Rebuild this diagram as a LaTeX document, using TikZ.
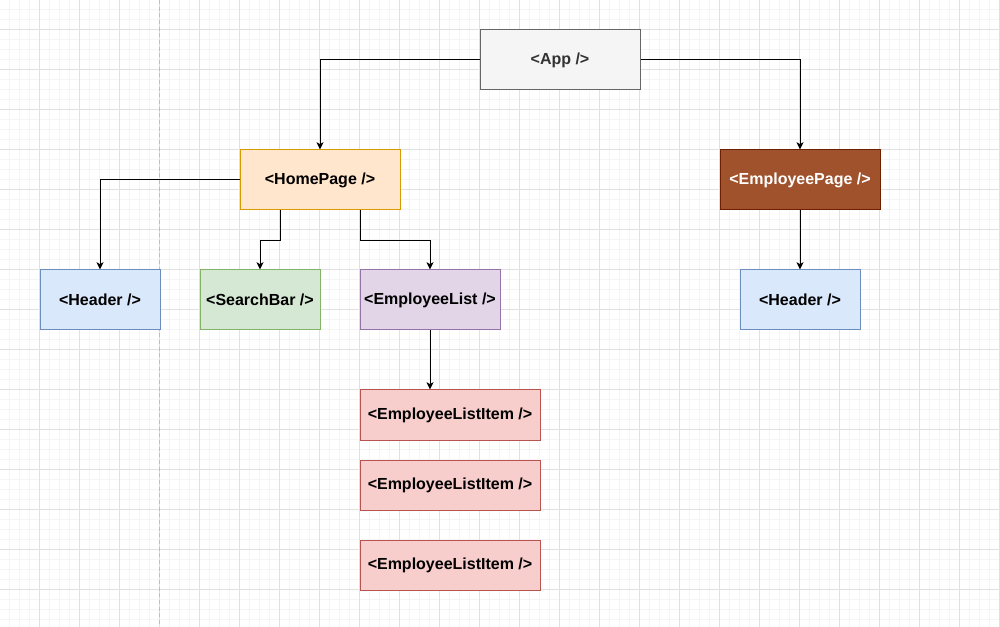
\documentclass[tikz,border=0pt]{standalone}
\usepackage{fontspec}
\setmainfont{Liberation Sans}
\usetikzlibrary{arrows.meta,calc}
\definecolor{gridminor}{HTML}{F5F5F5}
\definecolor{gridmajor}{HTML}{E0E0E0}
\definecolor{pageline}{HTML}{BDBDBD}
\definecolor{appfill}{HTML}{F5F5F5}\definecolor{appline}{HTML}{666666}\definecolor{apptext}{HTML}{333333}
\definecolor{homefill}{HTML}{FFE6CC}\definecolor{homeline}{HTML}{D79B00}
\definecolor{epfill}{HTML}{A0522D}\definecolor{epline}{HTML}{6D1F00}
\definecolor{bluefill}{HTML}{DAE8FC}\definecolor{blueline}{HTML}{6C8EBF}
\definecolor{greenfill}{HTML}{D5E8D4}\definecolor{greenline}{HTML}{82B366}
\definecolor{purplefill}{HTML}{E1D5E7}\definecolor{purpleline}{HTML}{9673A6}
\definecolor{redfill}{HTML}{F8CECC}\definecolor{redline}{HTML}{B85450}
\tikzset{
  minorgrid/.style={draw=gridminor, line width=0.75pt},
  majorgrid/.style={draw=gridmajor, line width=0.75pt},
  compbox/.style={rectangle, anchor=north west, inner sep=0pt, line width=0.75pt, font=\bfseries\fontsize{12pt}{14pt}\selectfont},
  edge/.style={draw=black, line width=0.75pt, -{Stealth[length=5.5pt,width=5.25pt,inset=1.5pt]}},
}
\begin{document}
\begin{tikzpicture}[x=0.75pt,y=-0.75pt]
\useasboundingbox (0,0) rectangle (1000,627);
\fill[white] (0,0) rectangle (1000,627);
% grid
\foreach \k in {9.5,19.5,...,999.5} \draw[minorgrid] (\k,0) -- (\k,627);
\foreach \k in {9.5,19.5,...,626.5} \draw[minorgrid] (0,\k) -- (1000,\k);
\foreach \k in {39.5,79.5,...,999.5} \draw[majorgrid] (\k,0) -- (\k,627);
\foreach \k in {29.5,69.5,...,626.5} \draw[majorgrid] (0,\k) -- (1000,\k);
\draw[pageline, line width=0.75pt, dash pattern=on 3pt off 2pt] (159.5,0) -- (159.5,627);
% nodes (1px = 0.75pt)
\node[compbox, draw=appline, fill=appfill, text=apptext, minimum width=120pt, minimum height=45pt] (app) at (479.5,29.5) {<App />};
\node[compbox, draw=homeline, fill=homefill, minimum width=120pt, minimum height=45pt] (home) at (239.5,149.5) {<HomePage />};
\node[compbox, draw=epline, fill=epfill, text=white, minimum width=120pt, minimum height=45pt] (epage) at (719.5,149.5) {<EmployeePage />};
\node[compbox, draw=blueline, fill=bluefill, minimum width=90pt, minimum height=45pt] (hdr1) at (39.5,269.5) {<Header />};
\node[compbox, draw=greenline, fill=greenfill, minimum width=90pt, minimum height=45pt] (sb) at (199.5,269.5) {<SearchBar />};
\node[compbox, draw=purpleline, fill=purplefill, minimum width=105pt, minimum height=45pt] (elist) at (359.5,269.5) {<EmployeeList />};
\node[compbox, draw=blueline, fill=bluefill, minimum width=90pt, minimum height=45pt] (hdr2) at (739.5,269.5) {<Header />};
\node[compbox, draw=redline, fill=redfill, minimum width=135pt, minimum height=37.5pt] (item1) at (359.5,389.5) {<EmployeeListItem />};
\node[compbox, draw=redline, fill=redfill, minimum width=135pt, minimum height=37.5pt] (item2) at (359.5,459.5) {<EmployeeListItem />};
\node[compbox, draw=redline, fill=redfill, minimum width=135pt, minimum height=37.5pt] (item3) at (359.5,539.5) {<EmployeeListItem />};
% edges
\draw[edge] (app.west) -| (home.north);
\draw[edge] (app.east) -| (epage.north);
\draw[edge] (home.west) -| (hdr1.north);
\draw[edge] ($(home.south)+(-40,0)$) -- ++(0,30) -| (sb.north);
\draw[edge] ($(home.south)+(40,0)$) -- ++(0,30) -| (elist.north);
\draw[edge] (elist.south) -- (elist.south |- item1.north);
\draw[edge] (epage.south) -- (hdr2.north);
\end{tikzpicture}
\end{document}
